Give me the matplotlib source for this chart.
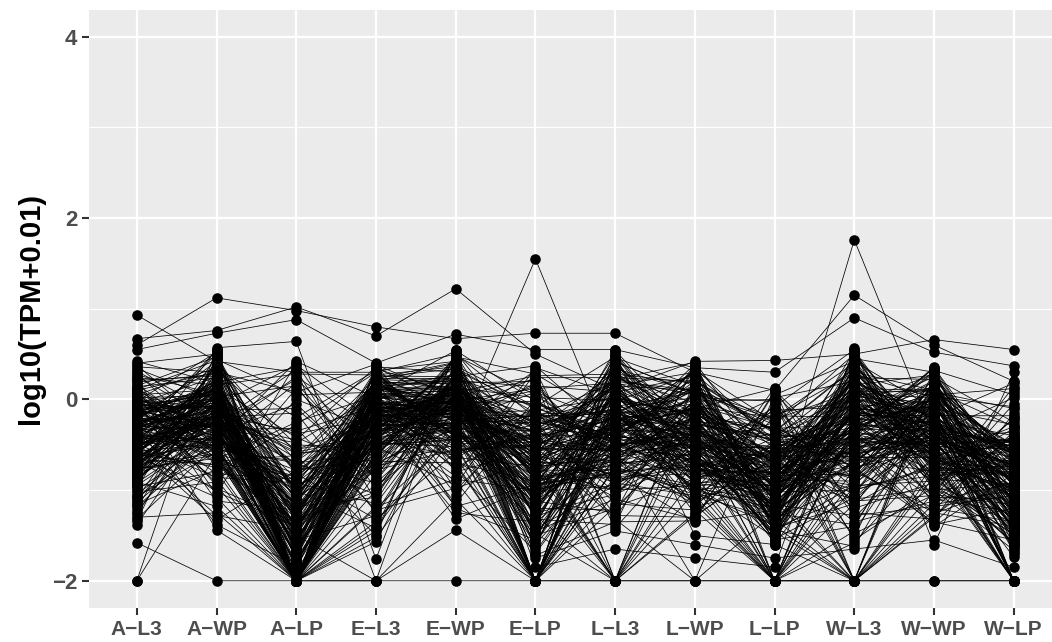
import matplotlib
matplotlib.use('Agg')
import matplotlib.pyplot as plt
import numpy as np

plt.rcParams['font.family'] = ['Liberation Sans', 'DejaVu Sans']

samples = ['A\u2212L3', 'A\u2212WP', 'A\u2212LP', 'E\u2212L3', 'E\u2212WP', 'E\u2212LP',
           'L\u2212L3', 'L\u2212WP', 'L\u2212LP', 'W\u2212L3', 'W\u2212WP', 'W\u2212LP']
yticks = [-2, 0, 2, 4]
yminor = [-1, 1, 3]

# one value per gene, same gene order in every column
a_l3 = [-0.30, 0.10, 0.93, 0.60, 0.67, 0.55, -2.00, -1.58, -2.00, 0.42,
        -0.42, -0.15, -0.88, 0.05, -0.61, -1.12, 0.22, -0.34, -0.75, 0.31,
        -0.05, -1.02, -0.52, 0.15, -0.24, -1.30, -0.68, 0.38, -0.11, -0.93,
        -0.47, 0.01, -0.81, -0.19, -1.21, 0.26, -0.57, -0.37, -1.38, 0.12,
        -0.72, -0.08, -0.29, -0.98, 0.34, -0.64, -0.44, 0.19, -1.07, -0.16,
        -0.54, -0.85, 0.08, -0.26, -1.16, -0.39, -0.70, 0.29, -0.02, -0.49,
        -1.26, -0.13, -0.60, -0.91, 0.17, -0.33, -0.77, -1.34, -0.21, 0.03,
        -0.45, -0.66, -1.05, 0.24, -0.10, -0.56, -0.83, -0.31, -1.18, -0.07,
        0.36, -0.50, -0.96, -0.23, -0.74, 0.13, -1.10, -0.40, -0.62, -0.18,
        -1.24, 0.07, -0.86, -0.35, -0.53, -0.28, -1.00, 0.21, -0.69, -0.12,
        -0.43, -1.32, -0.79, -0.04, -0.58, 0.27, -0.25, -0.94, -0.48, -1.14,
        0.40, -0.36, -0.71, -0.20, -1.08, -0.09, -0.55, -0.89, 0.11, -0.65,
        -0.31, -0.52, -0.14, -0.67, -0.38, 0.02, -0.81, -0.22, -0.46, -0.09,
        -0.59, -0.27, 0.06, -0.73, -0.35, -0.18, -0.90, -0.42, -0.03, -0.55,
        -0.24, -0.64, -0.12, 0.10, -0.49, -0.78, -0.33, -0.06, -0.60, -0.20,
        -0.85, -0.40, -0.16, -0.70, 0.04, -0.29, -0.51, -0.11, -0.95, -0.37,
        -0.01, -0.63, -0.26, -0.44, -0.76, -0.08, -0.34, -0.57, 0.14, -0.21,
        -0.68, -0.47, -0.13, -0.87, -0.30, -0.05, -0.54, -0.39, -0.72, -0.17,
        0.08, -0.43, -0.61, -0.23, -0.82, -0.10, -0.36, -0.50, -0.02, -0.66,
        -0.28, -0.75, -0.15, -0.45, 0.00, -0.58, -0.32, -0.92, -0.19, -0.41,
        -0.07, -0.62, -0.25, -0.48, -0.79, 0.05, -0.35, -0.56, -0.12, -0.69,
        -0.30, -0.84, -0.04, -0.46, -0.22, -0.60, -0.38, 0.12, -0.74, -0.16]
a_wp = [-0.10, 0.30, 0.42, 1.12, 0.76, 0.73, -0.60, -2.00, 0.57, 0.18,
        0.02, -0.44, -0.21, 0.35, -0.72, -0.08, -1.05, 0.50, -0.30, -0.15,
        0.25, -0.91, -0.03, 0.47, -0.55, -1.25, 0.12, -0.37, -0.64, 0.40,
        -0.18, -1.44, 0.08, -0.82, 0.32, -0.26, -0.49, 0.54, -0.12, -1.12,
        0.15, -0.68, -0.34, 0.44, 0.00, -0.98, -0.23, 0.28, -0.58, -0.06,
        -1.33, 0.38, -0.40, 0.05, -0.77, 0.21, -0.16, -0.52, 0.52, -0.86,
        -0.01, -0.29, 0.34, -1.18, -0.46, 0.10, -0.61, 0.46, -0.20, -0.95,
        0.23, -0.09, -0.36, 0.16, -0.70, 0.55, -0.13, -1.38, -0.43, 0.07,
        0.30, -0.25, -0.80, 0.42, -0.04, -0.56, 0.19, -1.02, -0.32, 0.36,
        -0.11, -0.66, 0.48, -0.19, 0.03, -0.88, -0.41, 0.26, -1.08, -0.07,
        0.13, -0.50, 0.39, -0.27, -0.75, 0.06, -0.14, 0.33, -1.28, -0.38,
        0.50, -0.02, -0.60, 0.20, -0.47, -0.92, 0.09, -0.17, 0.43, -0.33,
        -0.05, -0.28, 0.11, -0.42, -0.15, 0.04, -0.55, -0.22, 0.18, -0.08,
        -0.35, 0.01, -0.62, -0.12, 0.22, -0.30, -0.02, -0.48, 0.09, -0.18,
        -0.70, -0.06, 0.14, -0.38, -0.24, 0.03, -0.52, -0.10, 0.27, -0.32,
        -0.01, -0.44, 0.07, -0.16, -0.58, 0.12, -0.26, -0.04, -0.36, 0.19,
        -0.09, -0.50, 0.00, -0.20, -0.65, 0.06, -0.29, -0.13, 0.24, -0.40,
        -0.03, -0.54, 0.10, -0.23, -0.07, -0.34, 0.16, -0.46, -0.11, 0.02,
        -0.60, -0.17, 0.21, -0.31, -0.05, -0.41, 0.08, -0.25, -0.14, -0.72,
        0.13, -0.37, -0.01, -0.21, -0.49, 0.05, -0.10, -0.33, 0.17, -0.56,
        -0.08, -0.27, 0.03, -0.43, -0.19, 0.11, -0.64, -0.06, -0.30, 0.15,
        -0.12, -0.39, 0.00, -0.24, -0.52, 0.07, -0.15, -0.35, 0.20, -0.04]
a_lp = [-1.20, -0.80, 0.30, 0.98, 1.02, 0.88, -2.00, -2.00, 0.64, -2.00,
        -1.75, -0.95, -2.00, -0.20, -1.42, -2.00, 0.40, -1.10, -2.00, -0.55,
        -1.88, 0.12, -2.00, -1.30, -0.70, -2.00, -1.60, 0.25, -2.00, -1.02,
        -0.35, -2.00, -1.50, -0.88, -2.00, 0.33, -1.68, -2.00, -0.10, -1.22,
        -2.00, -0.62, -1.80, 0.05, -2.00, -1.36, -0.45, -2.00, -1.55, 0.38,
        -0.78, -2.00, -1.15, -2.00, -0.28, -1.92, -2.00, 0.18, -1.46, -0.92,
        -2.00, -1.26, -0.50, -2.00, 0.42, -1.70, -2.00, -1.05, -0.15, -2.00,
        -1.58, -0.72, -2.00, 0.28, -1.34, -2.00, -0.38, -1.84, -2.00, -0.98,
        0.08, -1.18, -2.00, -0.60, -1.64, -2.00, 0.35, -1.40, -2.00, -0.82,
        -1.95, -0.25, -2.00, -1.12, 0.15, -2.00, -1.52, -0.68, -2.00, -1.28,
        -0.42, -2.00, -1.78, 0.22, -2.00, -1.00, -0.58, -2.00, -1.44, -0.05,
        -2.00, -1.62, -0.85, -2.00, -1.32, 0.00, -2.00, -1.08, -1.72, -0.32,
        -1.25, -1.60, -2.00, -0.90, -1.45, -1.10, -2.00, -1.70, -1.35, -0.75,
        -2.00, -1.52, -1.18, -0.65, -2.00, -1.82, -1.28, -1.00, -2.00, -1.40,
        -0.85, -1.66, -2.00, -1.22, -1.48, -0.55, -2.00, -1.75, -1.05, -1.38,
        -2.00, -0.95, -1.58, -1.15, -2.00, -1.86, -0.70, -1.30, -2.00, -1.55,
        -1.08, -0.82, -2.00, -1.42, -1.68, -1.20, -2.00, -0.60, -1.50, -1.02,
        -2.00, -1.78, -1.34, -0.92, -2.00, -1.62, -1.12, -0.78, -2.00, -1.44,
        -1.26, -1.90, -2.00, -0.48, -1.56, -1.16, -2.00, -1.72, -0.98, -1.36,
        -2.00, -1.46, -0.88, -1.64, -2.00, -1.24, -1.80, -1.06, -2.00, -0.68,
        -1.32, -1.54, -2.00, -1.14, -1.74, -0.80, -2.00, -1.40, -1.60, -1.00,
        -2.00, -1.28, -0.72, -1.84, -2.00, -1.50, -1.18, -0.94, -2.00, -1.66]
e_l3 = [-0.50, -0.10, 0.30, 0.80, 0.70, 0.40, -2.00, -2.00, -1.76, -1.57,
        0.15, -0.62, -1.20, 0.32, -0.28, -0.05, -0.90, 0.22, -1.45, -0.40,
        0.05, -0.75, 0.38, -0.16, -1.05, -0.52, 0.26, -0.33, -1.35, 0.10,
        -0.08, -0.68, -2.00, 0.18, -0.45, -1.12, 0.34, -0.22, -0.85, -0.02,
        0.28, -1.50, -0.36, 0.08, -0.58, -0.96, 0.36, -0.12, -1.28, -0.26,
        0.20, -0.70, -0.04, -1.40, 0.30, -0.48, -0.18, -0.80, 0.12, -1.15,
        -0.30, 0.24, -0.55, -1.00, 0.02, -0.14, -0.65, 0.33, -1.25, -0.38,
        0.16, -0.92, -0.06, 0.27, -0.43, -1.52, -0.20, 0.06, -0.72, -0.32,
        0.39, -1.08, -0.10, -0.50, 0.14, -0.82, -2.00, 0.23, -0.24, -1.32,
        -0.60, 0.04, -0.35, 0.31, -0.98, -0.15, -0.46, 0.19, -1.18, -0.01,
        -0.78, 0.25, -0.27, -0.56, 0.09, -1.42, -0.41, 0.35, -0.11, -0.88,
        0.21, -0.64, -0.19, 0.00, -1.02, -0.34, 0.29, -0.53, -0.07, -1.22,
        -0.12, 0.08, -0.30, -0.05, 0.18, -0.42, -0.20, 0.02, -0.55, -0.08,
        0.12, -0.35, -0.15, 0.24, -0.62, -0.02, -0.26, 0.06, -0.48, -0.10,
        0.15, -0.38, -0.18, -0.70, 0.04, -0.24, 0.20, -0.44, -0.06, -0.32,
        0.10, -0.52, -0.14, 0.27, -0.28, -0.01, -0.60, 0.07, -0.22, -0.40,
        0.16, -0.09, -0.34, -0.78, 0.03, -0.17, 0.22, -0.46, -0.04, -0.30,
        0.13, -0.56, -0.11, -0.25, 0.09, -0.37, 0.01, -0.66, -0.19, 0.19,
        -0.07, -0.41, -0.13, 0.05, -0.29, -0.50, 0.14, -0.03, -0.23, -0.74,
        0.11, -0.33, -0.16, 0.26, -0.45, -0.06, -0.21, 0.00, -0.58, -0.10,
        0.17, -0.27, -0.36, 0.07, -0.12, -0.47, 0.23, -0.02, -0.68, -0.18,
        -0.08, 0.12, -0.31, -0.43, 0.04, -0.15, -0.53, 0.21, -0.24, -0.05]
e_wp = [-0.30, -0.50, 0.50, 0.67, 1.22, 0.72, -1.44, -2.00, 0.55, 0.10,
        -0.05, 0.25, -0.40, 0.42, -0.15, -0.70, 0.18, -1.20, 0.32, -0.08,
        -0.28, 0.48, 0.02, -0.55, 0.28, -0.95, -0.12, 0.38, -0.33, 0.14,
        -1.32, -0.02, 0.45, -0.22, -0.62, 0.22, 0.06, -0.85, 0.35, -0.18,
        -0.42, 0.52, -0.10, -1.05, 0.16, -0.26, 0.30, -0.75, 0.08, -0.36,
        0.40, -0.04, -1.15, 0.24, -0.48, 0.12, -0.16, 0.50, -0.60, 0.00,
        -0.90, 0.34, -0.24, 0.20, -0.06, -0.52, 0.44, -1.00, 0.10, -0.30,
        0.26, -0.14, -0.68, 0.36, 0.04, -0.38, -1.25, 0.54, -0.20, 0.15,
        -0.80, 0.31, -0.09, -0.45, 0.23, 0.01, -1.10, 0.41, -0.27, -0.58,
        0.19, -0.11, 0.37, -0.72, 0.07, -0.34, 0.47, -0.17, -0.88, 0.27,
        -0.03, -0.46, 0.13, 0.33, -0.64, -0.23, 0.43, -0.07, -1.18, 0.21,
        -0.39, 0.05, 0.29, -0.78, -0.13, 0.39, -0.50, 0.17, -0.29, -0.98,
        -0.02, 0.12, -0.22, 0.05, -0.35, 0.20, -0.10, -0.45, 0.08, -0.18,
        0.15, -0.28, 0.00, -0.06, 0.24, -0.40, -0.14, 0.10, -0.52, 0.02,
        -0.24, 0.18, -0.08, -0.32, 0.06, -0.60, 0.13, -0.16, -0.04, 0.26,
        -0.38, 0.03, -0.12, 0.16, -0.26, -0.48, 0.09, -0.01, -0.20, 0.22,
        -0.07, -0.34, 0.11, -0.55, 0.04, -0.15, 0.19, -0.42, -0.03, 0.07,
        -0.23, 0.14, -0.30, -0.09, 0.28, -0.11, -0.65, 0.01, -0.19, 0.17,
        0.06, -0.36, -0.05, 0.10, -0.27, -0.44, 0.21, -0.13, 0.00, -0.50,
        0.12, -0.21, -0.02, 0.25, -0.33, -0.08, 0.08, -0.17, -0.58, 0.03,
        -0.25, 0.15, -0.10, -0.39, 0.05, -0.04, 0.23, -0.29, -0.70, 0.09,
        -0.12, 0.02, -0.46, 0.18, -0.06, -0.31, 0.11, -0.16, -0.01, -0.37]
e_lp = [-1.00, 1.55, -0.20, 0.73, 0.50, 0.55, -2.00, -2.00, -1.85, -1.75,
        -0.60, 0.37, -1.25, -2.00, -0.35, -0.90, 0.20, -1.55, -0.10, -0.72,
        -1.40, 0.05, -2.00, -0.50, -1.10, 0.30, -0.80, -1.65, -0.25, -2.00,
        -0.95, 0.12, -1.32, -0.42, -2.00, -0.68, -1.48, 0.35, -0.15, -1.02,
        -2.00, -0.58, -1.20, 0.00, -0.85, -1.60, -2.00, -0.30, 0.26, -1.15,
        -0.76, -1.38, -0.05, -2.00, -0.52, -1.70, 0.15, -0.92, -0.20, -1.28,
        -2.00, -0.64, 0.08, -1.45, -0.38, -1.05, -2.00, -0.12, -0.82, 0.32,
        -1.52, -0.46, -1.18, -2.00, 0.22, -0.70, -1.35, -0.02, -0.98, -2.00,
        -0.55, -1.62, 0.10, -0.28, -1.12, -0.78, -2.00, -1.42, 0.18, -0.40,
        -0.88, -1.58, -0.08, -2.00, -0.62, -1.22, 0.28, -0.34, -1.00, -1.72,
        -2.00, -0.48, 0.02, -1.30, -0.74, -0.18, -1.50, -2.00, -0.94, 0.14,
        -0.56, -1.08, -0.32, -1.68, 0.24, -0.86, -2.00, -0.44, -1.16, -0.66,
        -0.70, -0.45, -1.05, -0.25, -0.85, -1.30, -0.55, -0.15, -2.00, -0.95,
        -0.38, -0.75, -1.18, -0.60, -0.08, -1.42, -0.50, -0.88, -2.00, -0.32,
        -1.00, -0.66, -0.20, -1.25, -0.78, -0.42, -1.55, -0.12, -0.92, -0.58,
        -2.00, -0.30, -1.12, -0.72, -0.48, -1.35, -0.18, -0.82, -0.62, -1.02,
        -0.36, -2.00, -0.98, -0.52, -0.05, -1.22, -0.74, -0.40, -1.48, -0.86,
        -0.26, -0.68, -1.10, -2.00, -0.56, -0.90, -0.14, -1.38, -0.44, -0.80,
        -1.60, -0.34, -0.64, -1.15, -0.22, -0.96, -2.00, -0.54, -0.76, -0.10,
        -1.28, -0.46, -0.84, -0.28, -1.08, -0.60, -1.45, -2.00, -0.38, -0.70,
        -0.16, -1.20, -0.50, -0.94, -0.42, -0.02, -1.32, -0.66, -2.00, -0.24,
        -0.87, -0.58, -1.04, -0.33, -0.73, -1.52, -2.00, -0.19, -0.47, -0.91]
l_l3 = [-0.80, -0.60, 0.20, 0.73, 0.10, 0.55, -2.00, -2.00, -1.65, -1.45,
        0.30, -0.40, -1.05, 0.48, -0.15, -0.72, -2.00, 0.12, -1.28, -0.30,
        0.40, -0.55, -0.02, -0.90, 0.25, -2.00, -0.35, 0.52, -1.15, -0.10,
        -0.65, 0.18, -1.38, -0.22, 0.44, -0.82, -2.00, 0.05, -0.48, -0.95,
        0.34, -0.18, -1.22, -0.60, 0.50, -0.05, -0.75, -2.00, 0.28, -0.42,
        -1.00, 0.15, -0.28, 0.38, -1.32, -0.52, 0.08, -0.85, -0.12, -2.00,
        0.46, -0.68, -0.25, -1.10, 0.22, -0.38, 0.02, -0.78, 0.42, -1.42,
        -0.08, -0.58, 0.32, -0.20, -0.98, -2.00, 0.10, -0.45, 0.54, -1.18,
        -0.32, 0.26, -0.70, -0.04, -1.25, 0.36, -0.50, -0.14, -0.88, 0.16,
        -2.00, -0.36, 0.47, -0.62, -1.08, 0.06, -0.24, 0.30, -0.80, -1.35,
        -0.46, 0.20, -0.01, -0.92, 0.41, -0.56, -1.20, -0.16, 0.13, -0.66,
        0.37, -0.27, -1.02, -0.43, 0.24, -0.76, -0.07, -1.30, 0.49, -0.34,
        -0.25, -0.52, 0.05, -0.38, -0.72, -0.12, 0.15, -0.45, -0.85, -0.20,
        -0.02, -0.60, -0.32, 0.22, -0.48, -0.95, -0.15, -0.68, 0.08, -0.40,
        -0.28, -2.00, -0.55, 0.12, -0.78, -0.22, -0.42, 0.02, -0.62, -0.35,
        -0.08, -0.90, -0.50, 0.18, -0.30, -0.70, -0.16, -0.44, -2.00, 0.06,
        -0.58, -0.26, -0.82, -0.04, -0.37, 0.10, -0.65, -0.19, -0.48, -1.00,
        -0.11, 0.25, -0.33, -0.74, -0.54, -0.07, -0.41, 0.14, -0.86, -0.23,
        -0.60, -0.01, -0.29, -0.46, 0.03, -0.76, -0.17, -0.56, -2.00, -0.36,
        0.20, -0.64, -0.24, -0.10, -0.51, -0.92, -0.31, 0.07, -0.43, -0.69,
        -0.14, -0.39, 0.16, -0.80, -0.21, -0.57, -0.05, -0.34, -1.05, -0.47,
        0.00, -0.27, -0.66, 0.11, -0.53, -0.18, -0.75, -0.40, -0.09, -0.61]
l_wp = [-1.00, -0.30, 0.10, 0.30, 0.42, 0.35, -2.00, -2.00, -1.75, -1.60,
        -1.50, 0.20, -0.62, -1.10, -0.05, 0.38, -0.85, -0.30, -1.30, 0.12,
        -0.45, -2.00, 0.28, -0.72, -0.15, -1.02, 0.32, -0.55, -1.22, 0.02,
        -0.38, -0.90, 0.40, -0.10, -0.68, -1.35, 0.22, -0.48, -0.20, -1.15,
        0.08, -0.78, -0.28, 0.35, -0.58, -1.05, -0.02, -1.28, 0.18, -0.42,
        -0.95, 0.30, -0.12, -0.65, -2.00, -0.34, 0.25, -0.82, -1.18, -0.08,
        0.15, -0.52, -0.25, -1.32, 0.41, -0.70, -0.18, -0.98, 0.05, -0.44,
        -1.08, 0.34, -0.60, -0.32, -0.04, -1.25, -0.75, 0.26, -0.40, -0.88,
        0.10, -0.22, -1.12, -0.56, 0.36, -0.14, -0.80, -1.00, 0.00, -0.36,
        -0.66, 0.24, -1.20, -0.46, -0.06, -0.92, 0.16, -0.27, -0.74, -1.34,
        0.39, -0.50, -0.16, -1.06, 0.07, -0.62, -0.33, 0.29, -0.84, -1.16,
        -0.24, 0.13, -0.54, -0.96, 0.20, -0.41, -1.26, -0.09, -0.69, 0.03,
        -0.48, -0.22, -0.75, -0.05, -0.60, -0.35, 0.10, -0.88, -0.42, -0.15,
        -0.68, -0.28, -1.00, 0.05, -0.52, -0.38, -0.12, -0.80, -0.46, 0.15,
        -0.62, -0.25, -0.92, -0.55, -0.02, -0.40, -0.72, -0.18, -1.10, -0.32,
        0.08, -0.58, -0.44, -0.85, -0.10, -0.65, -0.30, -0.50, 0.18, -0.78,
        -0.20, -0.98, -0.36, -0.54, 0.02, -0.70, -0.14, -0.47, -0.82, -0.26,
        -0.61, -0.04, -0.39, -1.05, -0.23, -0.56, 0.12, -0.74, -0.33, -0.90,
        -0.49, -0.16, -0.66, -0.08, -0.43, -0.95, -0.29, 0.06, -0.57, -0.77,
        -0.21, -0.51, -0.01, -0.86, -0.37, -0.64, -0.11, -0.45, -1.15, -0.31,
        0.14, -0.59, -0.24, -0.71, -0.41, -0.06, -0.93, -0.53, -0.17, -0.67,
        -0.34, -0.83, -0.03, -0.47, -0.27, -0.73, 0.09, -0.55, -1.02, -0.19]
l_lp = [-1.20, -0.60, -0.20, 0.10, 0.43, 0.30, -2.00, -2.00, -1.85, -1.75,
        -1.60, -0.35, -2.00, 0.13, -0.88, -1.28, -0.10, -1.55, -0.62, -2.00,
        -1.05, 0.05, -0.45, -1.42, -0.75, -1.15, -0.25, -1.50, -2.00, -0.02,
        -0.95, -0.55, -1.35, 0.12, -0.82, -1.22, -0.38, -1.58, -0.68, -2.00,
        -1.00, -0.15, -1.45, -0.50, -0.90, -1.32, 0.00, -0.72, -1.10, -0.30,
        -1.52, -2.00, -0.60, -0.08, -1.25, -0.85, -1.40, -0.42, -0.98, -0.20,
        -1.18, -0.65, -1.56, 0.08, -0.78, -1.48, -0.32, -2.00, -1.08, -0.52,
        -0.92, -1.30, -0.12, -0.70, -1.38, -0.48, -1.02, -1.60, 0.02, -0.58,
        -0.28, -1.20, -0.80, -2.00, -1.44, -0.40, -0.96, -0.05, -1.12, -0.64,
        -1.34, -0.74, -0.18, -1.54, -0.86, -1.06, -0.36, -1.26, -0.56, 0.10,
        -1.46, -0.94, -0.46, -2.00, -0.22, -1.16, -0.76, -1.36, -0.66, -0.04,
        -1.04, -0.54, -1.50, -0.84, -0.26, -1.24, -0.44, -0.99, -1.14, -0.34,
        -0.85, -1.10, -0.60, -1.30, -0.75, -0.95, -1.45, -0.50, -1.05, -0.70,
        -1.20, -0.40, -0.90, -2.00, -1.15, -0.65, -1.35, -0.80, -0.55, -1.00,
        -1.25, -0.30, -0.88, -1.48, -0.72, -1.08, -0.58, -1.38, -2.00, -0.92,
        -0.46, -1.18, -0.78, -1.02, -0.62, -1.55, -0.84, -0.38, -1.28, -0.98,
        -0.68, -1.12, -2.00, -0.52, -1.42, -0.82, -1.22, -0.74, -0.96, -0.44,
        -1.32, -0.64, -1.06, -0.56, -1.50, -0.87, -0.35, -1.16, -0.77, -2.00,
        -1.00, -0.61, -1.40, -0.48, -0.93, -1.26, -0.69, -1.09, -0.25, -0.83,
        -1.36, -0.54, -1.13, -0.73, -2.00, -0.97, -0.42, -1.24, -0.66, -1.03,
        -0.86, -1.46, -0.59, -0.91, -1.19, -0.32, -0.76, -1.33, -0.50, -1.07,
        -0.71, -2.00, -0.94, -1.27, -0.45, -1.11, -0.81, -0.63, -1.39, -0.89]
w_l3 = [1.76, -0.10, 0.30, 1.15, 0.50, 0.90, -2.00, -2.00, 0.57, -1.65,
        -0.40, 0.35, -1.15, -2.00, -0.05, 0.48, -0.78, -1.40, 0.22, -0.32,
        -2.00, 0.42, -0.60, -1.05, 0.15, -0.22, -1.52, 0.52, -0.88, -2.00,
        0.05, -0.48, 0.38, -1.25, -0.15, -0.70, -2.00, 0.28, -0.35, -1.45,
        0.45, -0.02, -0.95, 0.18, -0.55, -2.00, -1.30, 0.32, -0.25, -0.80,
        0.10, -1.58, -0.42, 0.55, -0.12, -1.10, -2.00, 0.24, -0.65, 0.40,
        -0.30, -1.35, 0.02, -0.90, 0.47, -0.18, -0.52, -2.00, 0.12, -1.20,
        -0.72, 0.30, -0.08, -1.48, 0.36, -0.38, -1.00, -2.00, 0.20, -0.58,
        0.50, -0.28, -0.84, 0.07, -1.62, -0.44, 0.26, -1.18, -2.00, -0.14,
        0.43, -0.66, -0.20, -1.08, 0.16, -0.50, 0.34, -1.38, -0.04, -0.75,
        -2.00, 0.54, -0.34, -0.96, 0.09, -1.28, -0.62, 0.39, -0.24, -1.55,
        0.00, -0.46, 0.29, -0.82, -2.00, 0.13, -1.12, -0.36, 0.44, -0.68,
        -0.20, 0.05, -0.42, -0.70, 0.15, -0.30, -0.10, -0.55, 0.25, -0.85,
        -0.15, -0.38, 0.08, -0.62, -0.25, 0.18, -0.48, -0.95, -0.05, -0.33,
        0.12, -0.75, -0.18, -0.52, 0.22, -0.40, -1.05, -0.08, -0.28, 0.02,
        -0.65, -0.12, -0.45, 0.30, -0.88, -0.22, -0.58, 0.06, -0.35, -0.78,
        -0.02, -0.50, 0.17, -0.30, -1.15, -0.14, -0.68, 0.10, -0.43, -0.24,
        -0.92, 0.04, -0.37, -0.60, 0.20, -0.17, -0.82, -0.47, -0.07, -0.29,
        0.14, -0.72, -0.39, -2.00, -0.11, -0.54, 0.27, -0.26, -0.98, -0.03,
        -0.44, -0.64, 0.09, -0.21, -0.76, -0.32, 0.01, -0.56, -1.10, -0.16,
        0.23, -0.41, -0.86, -0.09, -0.51, -0.27, 0.11, -0.67, -0.19, -0.36,
        -1.00, 0.03, -0.46, -0.13, -0.73, 0.19, -0.31, -0.59, -0.06, -0.90]
w_wp = [-0.40, -0.20, 0.10, 0.60, 0.66, 0.52, -2.00, -2.00, -1.60, -1.55,
        0.36, -0.70, -0.15, -1.02, 0.28, -0.48, -1.25, 0.05, -0.32, 0.34,
        -0.85, -0.10, -1.40, 0.20, -0.58, -0.25, 0.32, -0.95, -0.42, -1.15,
        0.12, -0.05, -0.65, -1.32, 0.25, -0.35, -0.78, 0.02, -1.08, -0.20,
        0.30, -0.52, -0.90, -0.12, -1.38, 0.15, -0.45, -0.72, 0.08, -1.20,
        -0.28, -0.62, 0.35, -1.00, -0.08, -0.38, -1.28, 0.22, -0.55, -0.82,
        0.00, -1.12, -0.30, 0.18, -0.68, -0.18, -1.35, 0.26, -0.46, -0.92,
        0.10, -0.60, -0.02, -1.05, -0.36, 0.31, -0.76, -1.22, -0.22, 0.06,
        -0.50, -0.88, 0.24, -1.16, -0.14, -0.40, -0.66, 0.14, -1.30, -0.26,
        -0.98, 0.03, -0.56, -0.33, 0.27, -1.10, -0.74, -0.06, -0.44, -1.36,
        0.17, -0.64, -0.24, -0.84, 0.09, -1.18, -0.34, -0.54, 0.21, -0.96,
        -0.16, -1.26, -0.43, 0.04, -0.70, -0.29, -1.06, 0.29, -0.80, -0.11,
        -0.35, -0.15, -0.52, 0.05, -0.70, -0.25, -0.45, 0.12, -0.85, -0.30,
        -0.08, -0.60, -0.38, 0.18, -0.92, -0.20, -0.48, -0.02, -0.75, -0.33,
        0.10, -0.56, -0.12, -0.42, -1.00, -0.27, 0.06, -0.65, -0.36, -0.18,
        -0.80, 0.14, -0.50, -0.23, -0.05, -0.72, -0.40, 0.02, -0.58, -0.31,
        -0.95, -0.10, -0.46, 0.20, -0.68, -0.28, -0.16, -0.54, -0.78, 0.08,
        -0.37, -0.62, -0.03, -0.44, -0.88, -0.21, 0.16, -0.51, -0.32, -0.70,
        -0.13, -0.41, -1.05, 0.04, -0.57, -0.26, -0.76, -0.07, -0.47, -0.34,
        0.11, -0.64, -0.19, -0.83, -0.39, 0.00, -0.53, -0.29, -0.98, -0.11,
        -0.43, -0.66, 0.07, -0.24, -0.59, -0.35, -0.90, -0.15, 0.13, -0.49,
        -0.74, -0.04, -0.30, -0.61, -0.22, -1.10, 0.01, -0.45, -0.69, -0.17]
w_lp = [-0.90, -0.60, -0.30, 0.20, 0.55, 0.37, -2.00, -2.00, 0.30, -1.85,
        -1.70, -0.45, -2.00, -0.05, -1.15, -0.72, -1.40, 0.12, -2.00, -0.95,
        -1.58, -0.28, -0.82, -2.00, -1.25, -0.55, 0.05, -1.48, -1.02, -0.38,
        -2.00, -0.68, -1.32, -0.15, -1.62, -0.88, -2.00, -0.50, -1.10, 0.18,
        -1.42, -0.76, -0.22, -2.00, -1.20, -0.60, -1.52, -0.98, -0.10, -1.35,
        -2.00, -0.42, -0.85, -1.66, -1.08, 0.02, -0.65, -1.28, -2.00, -0.32,
        -1.45, -0.92, -0.52, -1.18, -2.00, -0.18, -1.55, -0.78, -1.38, -0.48,
        -1.05, -2.00, -0.62, 0.08, -1.30, -0.90, -1.60, -0.35, -2.00, -1.12,
        -0.70, -1.50, -0.25, -1.00, -1.68, -0.58, -2.00, -1.22, -0.44, -0.84,
        -1.36, -0.08, -1.74, -0.74, -1.15, -0.40, -2.00, -1.46, -0.96, -0.56,
        -1.26, -0.30, -1.64, -0.80, -2.00, -1.06, -0.46, -1.34, -0.66, 0.14,
        -1.54, -0.94, -0.36, -1.20, -0.75, -1.44, -0.20, -1.04, -1.58, -0.54,
        -0.75, -1.05, -0.55, -1.25, -0.85, -0.60, -1.40, -0.95, -0.70, -2.00,
        -1.15, -0.50, -0.90, -1.35, -0.65, -1.00, -0.45, -1.20, -0.80, -1.50,
        -0.58, -1.10, -2.00, -0.72, -0.92, -1.30, -0.62, -1.02, -0.48, -1.42,
        -0.84, -0.68, -1.18, -0.40, -1.55, -0.98, -0.76, -2.00, -1.08, -0.52,
        -1.28, -0.88, -0.64, -1.38, -0.78, -0.56, -1.12, -1.48, -0.82, -0.96,
        -0.46, -1.22, -0.70, -1.60, -0.93, -2.00, -0.60, -1.04, -0.74, -1.32,
        -0.54, -0.87, -1.16, -0.66, -1.44, -0.99, -0.42, -1.26, -0.79, -1.09,
        -0.61, -2.00, -1.36, -0.73, -0.91, -0.51, -1.19, -0.83, -1.52, -0.69,
        -1.01, -0.57, -1.29, -0.77, -1.46, -0.89, -0.63, -2.00, -1.13, -0.47,
        -0.97, -1.33, -0.71, -1.07, -0.59, -1.24, -0.81, -1.41, -0.67, -0.94]

columns = [a_l3, a_wp, a_lp, e_l3, e_wp, e_lp, l_l3, l_wp, l_lp, w_l3, w_wp, w_lp]
tpm = np.array(columns).T
pos = np.arange(len(samples))

W, H = 1052, 642
fig = plt.figure(figsize=(W / 100, H / 100), dpi=100)
ax = fig.add_axes([89 / W, (H - 608) / H, (W - 89) / W, 598.5 / H])
ax.set_facecolor('#EBEBEB')

for s in ax.spines.values():
    s.set_visible(False)

ax.set_axisbelow(True)
ax.set_xticks(pos)
ax.set_xticklabels(samples)
ax.set_yticks(yticks)
ax.set_yticks(yminor, minor=True)
ax.grid(True, which='major', color='white', lw=1.6)
ax.grid(True, which='minor', axis='y', color='white', lw=0.8)
ax.tick_params(axis='both', which='major', length=5.3, width=1.5, color='#333333', labelcolor='#4D4D4D', pad=3)
ax.tick_params(axis='y', which='minor', length=0)
for lab in ax.get_xticklabels():
    lab.set_fontsize(15)
    lab.set_fontweight('bold')
for lab in ax.get_yticklabels():
    lab.set_fontsize(16)
    lab.set_fontweight('bold')

for row in tpm:
    ax.plot(pos, row, color='black', lw=0.55, solid_joinstyle='miter', zorder=2)
for j in range(len(samples)):
    ax.plot(np.full(tpm.shape[0], j), tpm[:, j], 'o', color='black', ms=7.6, mew=0, zorder=3)

ax.set_xlim(-0.6, 11.48)
ax.set_ylim(-2.3, 4.3)
ax.set_ylabel('log10(TPM+0.01)', fontsize=21, fontweight='bold', labelpad=5)

fig.savefig('out.png', dpi=100)
